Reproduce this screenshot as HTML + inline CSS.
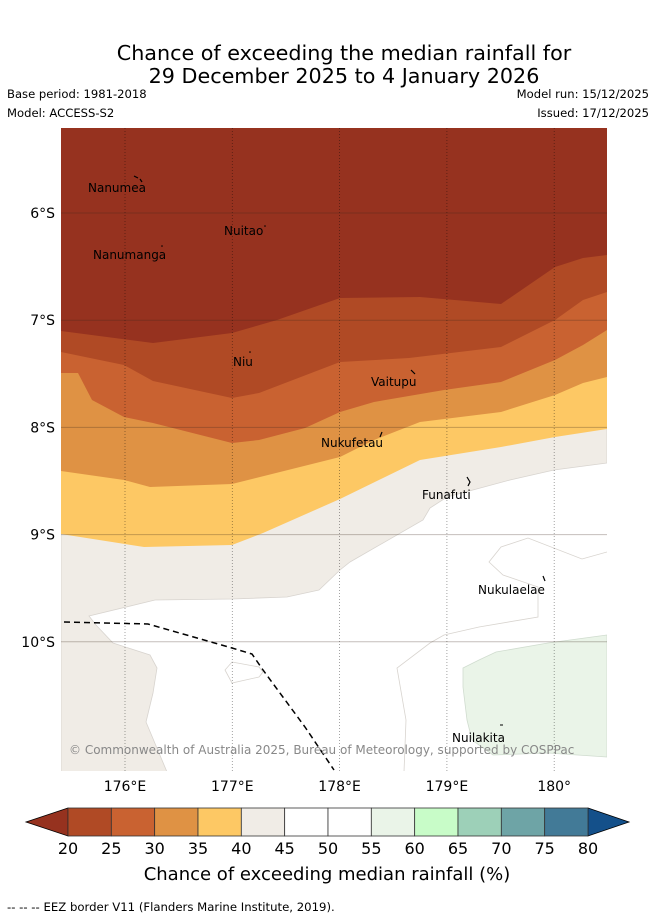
<!DOCTYPE html>
<html><head><meta charset="utf-8"><style>
html,body{margin:0;padding:0;background:#fff;width:655px;height:919px;overflow:hidden}
svg{display:block;font-family:"Liberation Sans","DejaVu Sans",sans-serif}
</style></head><body>
<svg id="fig" width="655" height="919" viewBox="0 0 655 919">
<text x="344" y="60" font-size="20.7" text-anchor="middle" font-family="DejaVu Sans, sans-serif">Chance of exceeding the median rainfall for</text>
<text x="344" y="83" font-size="20.7" text-anchor="middle" font-family="DejaVu Sans, sans-serif">29 December 2025 to 4 January 2026</text>
<text x="7" y="98" font-size="11.6" font-family="DejaVu Sans, sans-serif">Base period: 1981-2018</text>
<text x="7" y="117" font-size="11.6" font-family="DejaVu Sans, sans-serif">Model: ACCESS-S2</text>
<text x="649" y="98" font-size="11.6" text-anchor="end" font-family="DejaVu Sans, sans-serif">Model run: 15/12/2025</text>
<text x="649" y="117" font-size="11.6" text-anchor="end" font-family="DejaVu Sans, sans-serif">Issued: 17/12/2025</text>
<defs><clipPath id="mc"><rect x="61" y="128" width="546" height="643"/></clipPath></defs>
<g id="map" clip-path="url(#mc)">
<rect x="61" y="128" width="546" height="643" fill="#ffffff"/>
<path d="M61,128 L607,128 L607,463 L554,470 L510,480 L447,497 L430,508 L423,520 L350,562 L340,570 L319,590 L287,597 L232,599 L155,600 L89,616 L96,625 L113,643 L150,655 L157,668 L153,693 L146,722 L167,772 L61,772 Z" fill="#f0ece6" stroke="#d8d4cf" stroke-width="0.8"/>
<path d="M232,662 L259,667 L263,672 L259,677 L232,683 L225,670 Z" fill="none" stroke="#d8d4cf" stroke-width="0.8"/>
<path d="M607,552 L582,559 L528,538 L501,547 L489,562 L503,575 L538,587 L538,617 L479,627 L444,635 L430,643 L397,668 L406,720 L404,772" fill="none" stroke="#d8d4cf" stroke-width="0.8"/>
<path d="M463,668 L479,660 L496,652 L548,643 L607,635 L607,757 L548,753 L493,755 L472,740 L467,720 L463,687 Z" fill="#eaf4e8" stroke="#d0dccf" stroke-width="0.8"/>
<path d="M61,128 L607,128 L607,429 L555,437 L501,447 L420,460 L340,499 L263,533 L232,545 L144,547 L61,534 Z" fill="#fdc864"/>
<path d="M61,128 L607,128 L607,377 L583,383 L555,395 L501,412 L420,422 L374,440 L340,457 L232,484 L150,487 L124,480 L61,471 Z" fill="#df9244"/>
<path d="M61,128 L607,128 L607,330 L583,345 L555,360 L501,382 L444,390 L374,402 L340,412 L305,428 L259,440 L232,443 L153,423 L124,417 L92,400 L78,373 L61,373 Z" fill="#c96231"/>
<path d="M61,128 L607,128 L607,292 L583,300 L555,320 L501,347 L409,358 L340,362 L259,393 L232,398 L153,381 L124,365 L61,352 Z" fill="#b04a25"/>
<path d="M61,128 L607,128 L607,255 L583,258 L555,267 L501,304 L420,297 L340,298 L277,320 L232,333 L153,343 L61,331 Z" fill="#96321f"/>
<g id="grid"></g>
<path d="M64,622 L148,624 L162,628 L232,648 L252,654 L263,670 L305,727 L334,770" fill="none" stroke="#000" stroke-width="1.5" stroke-dasharray="6,4"/>
<g font-size="12" fill="#000" font-family="DejaVu Sans, sans-serif">
<path d="M134,176 L138,178 M140,179 L142,182" stroke="#000" stroke-width="1.2"/>
<text x="88" y="192">Nanumea</text>
<circle cx="265" cy="226" r="0.8"/><text x="224" y="235">Nuitao</text>
<circle cx="162" cy="246" r="0.8"/><text x="93" y="259">Nanumanga</text>
<circle cx="250" cy="352" r="0.8"/><text x="233" y="366">Niu</text>
<path d="M411,370 L415,374" stroke="#000" stroke-width="1.2"/><text x="371" y="386">Vaitupu</text>
<path d="M382,432 L380,437" stroke="#000" stroke-width="1.2"/><text x="321" y="447">Nukufetau</text>
<path d="M467,477 L470,482 L468,486" stroke="#000" stroke-width="1.2" fill="none"/><text x="422" y="499">Funafuti</text>
<path d="M543,576 L545,581" stroke="#000" stroke-width="1.2"/><text x="478" y="594">Nukulaelae</text>
<path d="M500,725 L503,725" stroke="#000" stroke-width="1"/><text x="452" y="742">Nuilakita</text>
</g>
<text x="69" y="754" font-size="12" fill="#888" font-family="DejaVu Sans, sans-serif">© Commonwealth of Australia 2025, Bureau of Meteorology, supported by COSPPac</text>
</g>
<g id="axes" font-size="14" font-family="DejaVu Sans, sans-serif"></g>
<g id="cbar"></g>
<text x="327" y="880" font-size="18" text-anchor="middle" font-family="DejaVu Sans, sans-serif">Chance of exceeding median rainfall (%)</text>
<text x="7" y="911" font-size="11.7" font-family="DejaVu Sans, sans-serif">--  --  -- EEZ border V11 (Flanders Marine Institute, 2019).</text>
</svg>
<script>
const lonTicks=[176,177,178,179,180];
const latTicks=[6,7,8,9,10];
const cbLevels=[20,25,30,35,40,45,50,55,60,65,70,75,80];
const cbColors=["#b04a25","#c96231","#df9244","#fdc864","#f0ece6","#ffffff","#ffffff","#eaf4e8","#c8fcc8","#9dd0b8","#6ea4a6","#427a97"];
const cbUnder="#96321f", cbOver="#14508a";
const NS="http://www.w3.org/2000/svg";
function X(lon){return 125+(lon-176)*107.3;}
function Y(lat){return 213+(lat-6)*107.2;}
function mk(t,a,p){const e=document.createElementNS(NS,t);for(const k in a)e.setAttribute(k,a[k]);p.appendChild(e);return e;}
const grid=document.getElementById('grid'), axes=document.getElementById('axes');
lonTicks.forEach(l=>{
 const ln=mk('line',{x1:X(l),x2:X(l),y1:128,y2:771,stroke:'rgba(0,0,0,0.45)','stroke-width':0.8,'stroke-dasharray':'1,2'},grid);
 
 
 const t=mk('text',{x:X(l),y:791,'text-anchor':'middle'},axes);
 t.textContent=l===180?'180°':l+'°E';
 
 
});
latTicks.forEach(l=>{
 const ln=mk('line',{x1:61,x2:607,y1:Y(l),y2:Y(l),stroke:'rgba(60,40,30,0.3)','stroke-width':1},grid);
 
 
 const t=mk('text',{x:55,y:Y(l)+5,'text-anchor':'end'},axes);
 t.textContent=l+'°S';
 
 
});
const cb=document.getElementById('cbar');
const x0=68,x1=588,y0=808,h=28,w=(x1-x0)/cbColors.length;
const under=mk('polygon',{points:`${x0},${y0} 26,${y0+h/2} ${x0},${y0+h}`,fill:cbUnder,stroke:'#000','stroke-width':0.8},cb);


const over=mk('polygon',{points:`${x1},${y0} 629,${y0+h/2} ${x1},${y0+h}`,fill:cbOver,stroke:'#000','stroke-width':0.8},cb);


cbColors.forEach((c,i)=>{
 const r=mk('rect',{x:x0+i*w,y:y0,width:w,height:h,fill:c,stroke:'#333','stroke-width':0.8},cb);
 
 
});
cbLevels.forEach((v,i)=>{
 const t=mk('text',{x:x0+i*w,y:854,'text-anchor':'middle','font-size':16,'font-family':'DejaVu Sans, sans-serif'},cb);
 t.textContent=v;
 
 
});
</script>
</body></html>
